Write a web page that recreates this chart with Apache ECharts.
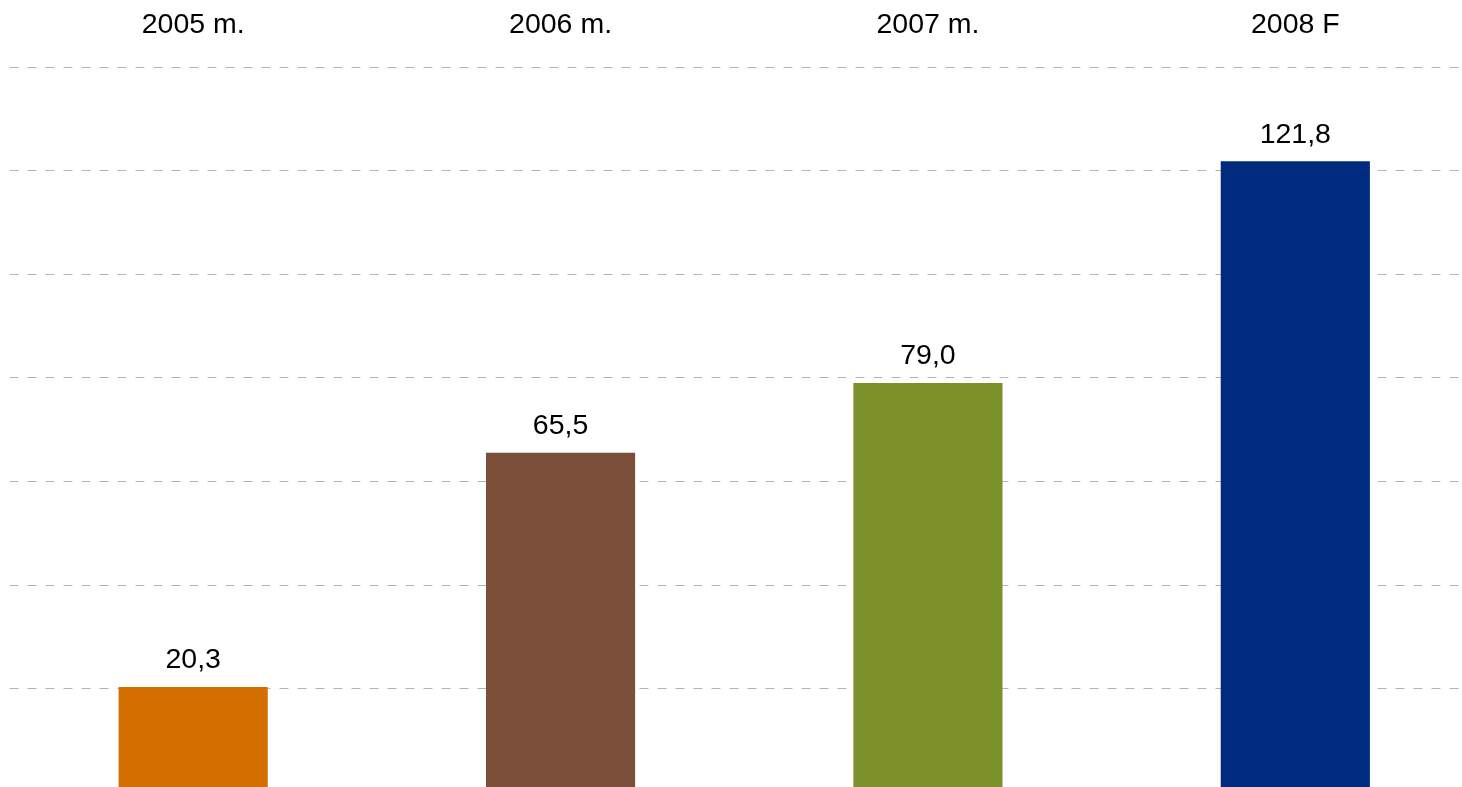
<!DOCTYPE html>
<html>
<head>
<meta charset="utf-8">
<script src="https://cdn.jsdelivr.net/npm/echarts@6/dist/echarts.min.js"></script>
<style>
html,body{margin:0;padding:0;background:#fff;overflow:hidden;width:1462px;height:787px;}
#chart{width:1479px;height:792px;}
</style>
</head>
<body>
<div id="chart"></div>
<script>
const categories = ['2005 m.', '2006 m.', '2007 m.', '2008 F'];
const values = [20.3, 65.5, 79.0, 121.8];
const barColors = ['#D46E00', '#7B4E3A', '#7C912A', '#002B7F'];

const chart = echarts.init(document.getElementById('chart'));
chart.setOption({
  animation: false,
  backgroundColor: '#ffffff',
  grid: { left: 9.5, right: 0, top: 67, bottom: 0, containLabel: false },
  xAxis: {
    type: 'category',
    data: categories,
    position: 'top',
    axisLine: { show: false },
    axisTick: { show: false },
    splitLine: { show: false },
    axisLabel: {
      margin: 27,
      color: '#000',
      fontSize: 28.5,
      fontFamily: 'Liberation Sans, Arial, sans-serif'
    }
  },
  yAxis: {
    type: 'value',
    min: 0,
    max: 140,
    interval: 20,
    axisLine: { show: false },
    axisTick: { show: false },
    axisLabel: { show: false },
    splitLine: { show: true, lineStyle: { color: '#b4b4b4', width: 1, type: [9, 9] } }
  },
  series: [{
    type: 'bar',
    data: values.map((v, i) => ({ value: v, itemStyle: { color: barColors[i] } })),
    barWidth: '40.6%',
    label: {
      show: true,
      position: 'top',
      distance: 12,
      color: '#000',
      fontSize: 28.5,
      fontFamily: 'Liberation Sans, Arial, sans-serif',
      formatter: p => p.value.toFixed(1).replace('.', ',')
    }
  }]
});
</script>
</body>
</html>
